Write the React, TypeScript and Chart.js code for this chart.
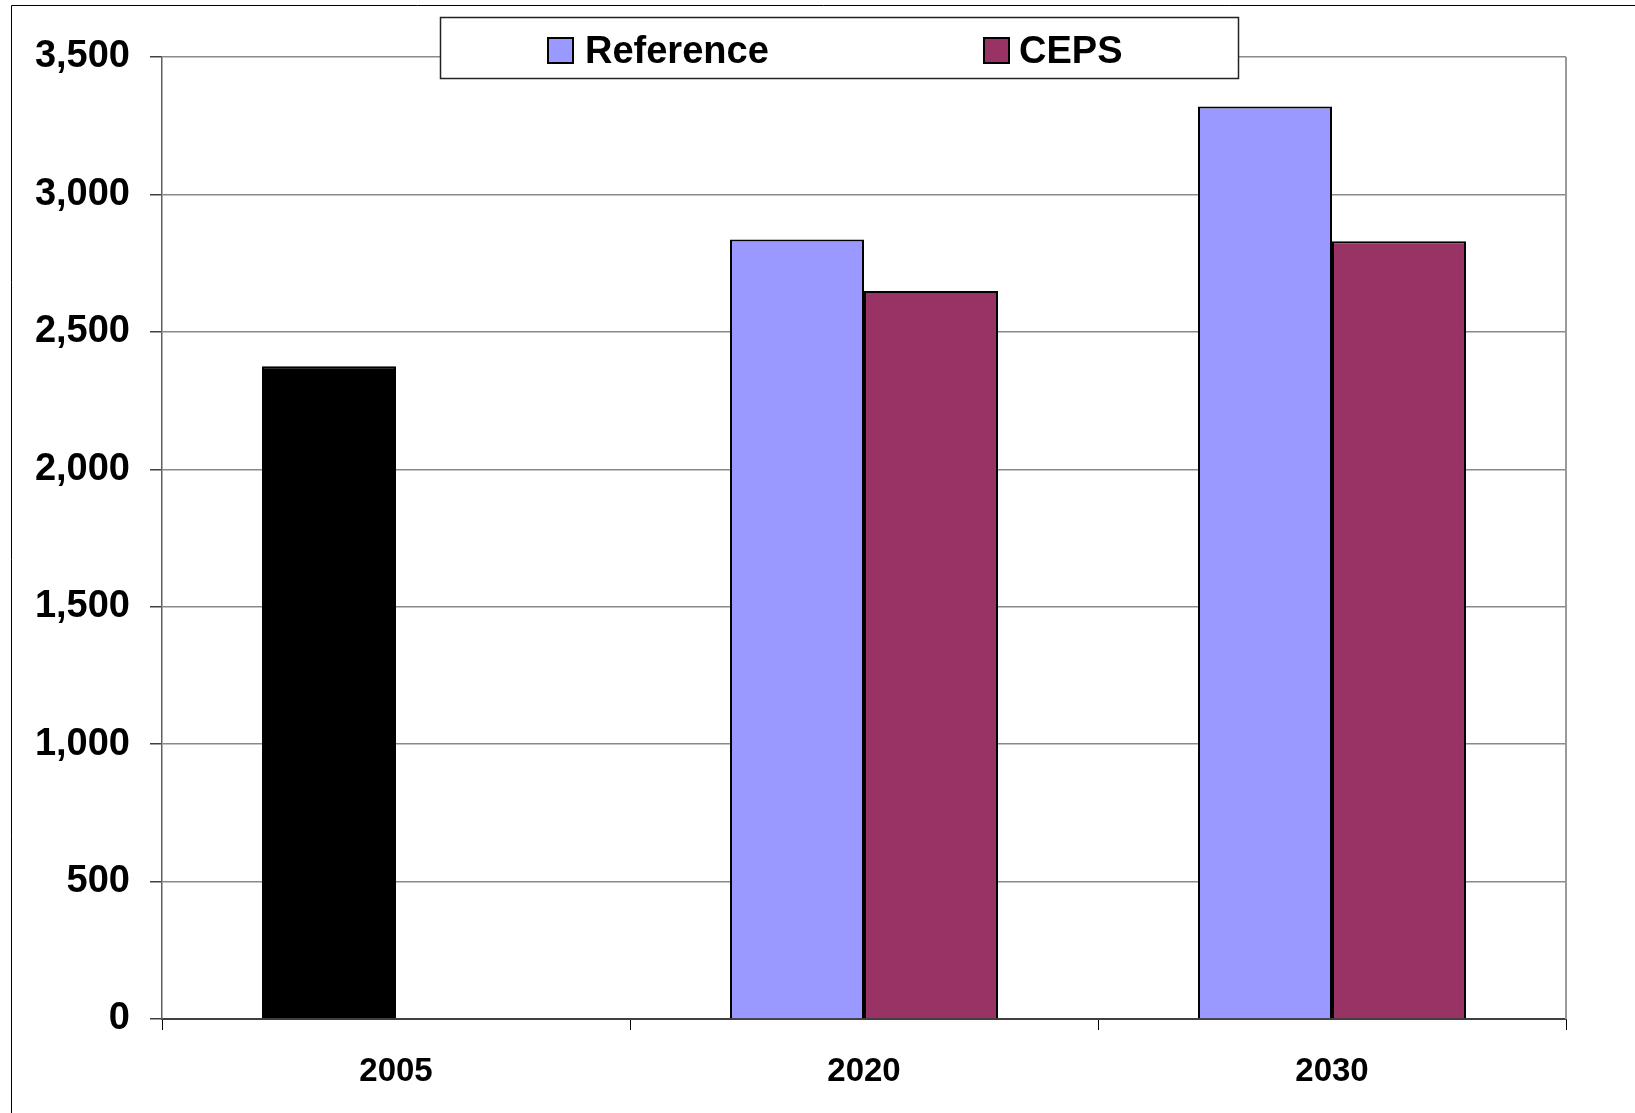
import React, { useEffect, useRef } from "react";
import { Chart, registerables } from "chart.js";

Chart.register(...registerables);

const categories = ["2005", "2020", "2030"];
const referenceValues = [2375, 2836, 3320];
const cepsValues = [null, 2649, 2830];
const referenceColors = ["#000000", "#9999FF", "#9999FF"];
const referenceLegendColor = "#9999FF";
const cepsColor = "#993366";
const seriesLabels = ["Reference", "CEPS"];
const yMin = 0;
const yMax = 3500;
const yStep = 500;

const FONT = "'Liberation Sans', Arial, sans-serif";

const framePlugin = {
  id: "frame",
  beforeDraw(chart: any) {
    const ctx = chart.ctx;
    ctx.save();
    ctx.fillStyle = "#ffffff";
    ctx.fillRect(0, 0, chart.width, chart.height);
    ctx.strokeStyle = "#000000";
    ctx.lineWidth = 1;
    ctx.beginPath();
    ctx.moveTo(11.5, chart.height);
    ctx.lineTo(11.5, 5.5);
    ctx.lineTo(chart.width, 5.5);
    ctx.stroke();
    ctx.restore();
  },
  afterDraw(chart: any) {
    const ctx = chart.ctx;
    const a = chart.chartArea;
    ctx.save();
    // right border of plot area
    ctx.strokeStyle = "#999999";
    ctx.lineWidth = 2;
    ctx.beginPath();
    ctx.moveTo(a.right, a.top);
    ctx.lineTo(a.right, a.bottom);
    ctx.stroke();

    // legend box
    const bx = 440, by = 17, bw = 798, bh = 61;
    ctx.fillStyle = "#ffffff";
    ctx.fillRect(bx, by, bw, bh);
    ctx.strokeStyle = "#222222";
    ctx.lineWidth = 1.5;
    ctx.strokeRect(bx + 0.5, by + 0.5, bw, bh);

    const markerX = [548, 984];
    const textX = [585, 1019];
    const colors = [referenceLegendColor, cepsColor];
    chart.data.datasets.forEach((ds: any, i: number) => {
      ctx.fillStyle = colors[i];
      ctx.fillRect(markerX[i], 38, 25, 25);
      ctx.strokeStyle = "#000000";
      ctx.lineWidth = 2;
      ctx.strokeRect(markerX[i], 38, 25, 25);
      ctx.fillStyle = "#000000";
      ctx.font = `bold 38px ${FONT}`;
      ctx.textBaseline = "alphabetic";
      ctx.textAlign = "left";
      ctx.fillText(ds.label, textX[i], 63);
    });
    ctx.restore();
  },
};

export default function App() {
  const canvasRef = useRef<HTMLCanvasElement | null>(null);

  useEffect(() => {
    const canvas = canvasRef.current;
    if (!canvas) return;
    const chart = new Chart(canvas, {
      type: "bar",
      data: {
        labels: categories,
        datasets: [
          {
            label: seriesLabels[0],
            data: referenceValues,
            backgroundColor: referenceColors,
            borderColor: "#000000",
            borderWidth: 2,
          },
          {
            label: seriesLabels[1],
            data: cepsValues as any,
            backgroundColor: cepsColor,
            borderColor: "#000000",
            borderWidth: 2,
          },
        ],
      },
      options: {
        responsive: false,
        animation: false,
        devicePixelRatio: 1,
        layout: { padding: { left: 0, top: 57, right: 69, bottom: 0 } },
        datasets: {
          bar: { categoryPercentage: 0.5726, barPercentage: 1 },
        },
        plugins: {
          legend: { display: false },
          tooltip: { enabled: false },
        },
        scales: {
          x: {
            afterFit(scale: any) {
              scale.height = 94;
            },
            grid: {
              display: true,
              drawOnChartArea: false,
              drawTicks: true,
              tickLength: 11,
              tickColor: "#000000",
              tickWidth: 1,
              offset: true,
            },
            border: { display: true, color: "#404040", width: 2 },
            ticks: {
              color: "#000000",
              font: { family: FONT, size: 33, weight: "bold" },
              padding: 22,
              maxRotation: 0,
            },
          },
          y: {
            min: yMin,
            max: yMax,
            afterFit(scale: any) {
              scale.width = 162;
            },
            ticks: {
              stepSize: yStep,
              color: "#000000",
              font: { family: FONT, size: 38, weight: "bold" },
              padding: 20,
            },
            grid: {
              color: "#8a8a8a",
              lineWidth: 1.5,
              drawTicks: true,
              tickLength: 12,
              tickColor: "#404040",
            },
            border: { display: true, color: "#606060", width: 1.5 },
          },
        },
      },
      plugins: [framePlugin],
    });
    return () => chart.destroy();
  }, []);

  return (
    <div style={{ position: "fixed", left: 0, top: 0, width: 1635, height: 1113, background: "#fff" }}>
      <canvas ref={canvasRef} width={1635} height={1113} style={{ width: 1635, height: 1113, display: "block" }} />
    </div>
  );
}
